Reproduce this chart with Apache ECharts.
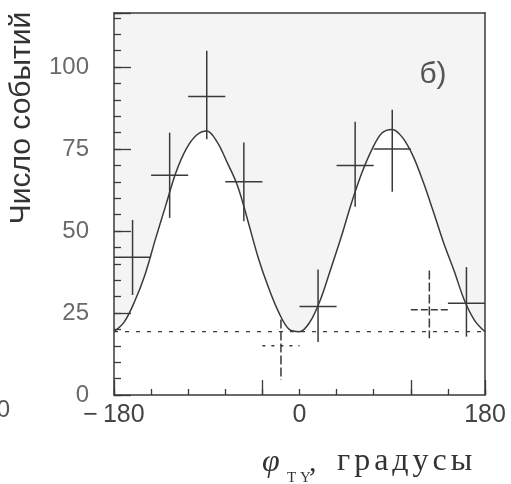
<!DOCTYPE html>
<html>
<head>
<meta charset="utf-8">
<script src="https://cdn.jsdelivr.net/npm/echarts@6/dist/echarts.min.js"></script>
<style>
  html, body { margin: 0; padding: 0; background: #ffffff; }
  #chart { width: 511px; height: 484px; }
</style>
</head>
<body>
<div id="chart"></div>
<script>
// Histogram of events versus azimuthal angle (10 bins of 36 degrees)
const binCenters = [-162, -126, -90, -54, -18, 18, 54, 90, 126, 162];
const binWidth = 36;
const counts  = [42, 67, 91, 65, 15, 27, 70, 75, 26, 28];
const errLow  = [30.5, 54, 78, 53, 4.6, 16.2, 57.4, 62, 17.3, 17.8];
const errHigh = [53.4, 80, 105, 77, 23, 38.3, 83.3, 87, 38, 39];

// Fitted curve sampled along the angle axis
const fitAngles = [-180, -170, -160, -150, -140, -130, -120, -110, -100, -90,
                   -80, -70, -60, -50, -40, -30, -20, -10, 0,
                   10, 20, 30, 40, 50, 60, 70, 80, 90,
                   100, 110, 120, 130, 140, 150, 160, 170, 180];
const fitValues = [19.3, 22.3, 28.5, 36.6, 47.3, 57.6, 67.8, 75.0, 79.2, 80.5,
                   77.2, 70.8, 63.7, 53.0, 41.8, 32.7, 25.1, 20.0, 19.3,
                   22.2, 28.8, 38.1, 47.7, 58.1, 67.3, 74.7, 79.9, 81.0,
                   78.5, 73.0, 65.0, 55.8, 46.3, 37.9, 28.9, 22.7, 19.3];

// Flat background level
const backgroundLevel = 19.3;

// Tick labels
const xTickLabels = [-180, 0, 180];
const yTickLabels = [0, 25, 50, 75, 100];

// Bins whose crosses are printed with a broken stroke, and their dash patterns
const brokenBinDash = { 4: [3, 6], 8: [7, 3] };

const ink = '#3a3a3a';
const X_MIN = -180, X_MAX = 180, Y_MIN = 0, Y_MAX = 116.5;

const chart = echarts.init(document.getElementById('chart'), null, { renderer: 'canvas' });

const hiddenLabel = { show: false };
const noSplit = { show: false };

// spaced-out letters for the axis unit word
const unitWord = 'градусы';
const unitRich = unitWord.split('').map(ch => '{l|' + ch + '}').join('');

const option = {
  animation: false,
  backgroundColor: '#ffffff',
  grid: {
    left: 114, right: 26, top: 13, bottom: 89,
    show: true, backgroundColor: '#f4f4f4', borderWidth: 0,
    containLabel: false, outerBoundsMode: 'none'
  },
  xAxis: [
    {
      type: 'value', position: 'bottom', min: X_MIN, max: X_MAX, interval: 36, z: 5,
      axisLine: { show: true, onZero: false, lineStyle: { color: ink, width: 1.5 } },
      axisTick: { show: true, inside: true, length: 6, lineStyle: { color: ink, width: 1.3 } },
      axisLabel: {
        margin: 8, fontSize: 25, fontFamily: 'Liberation Sans', color: '#444',
        formatter: v => xTickLabels.includes(v) ? (v < 0 ? '\u2212\u2009' + Math.abs(v) : String(v)) : ''
      },
      splitLine: noSplit
    },
    {
      type: 'value', position: 'bottom', min: X_MIN, max: X_MAX, interval: 144, z: 5,
      axisLine: { show: false, onZero: false },
      axisTick: { show: true, inside: true, length: 15, lineStyle: { color: ink, width: 1.3 } },
      axisLabel: hiddenLabel, splitLine: noSplit
    },
    {
      type: 'value', position: 'top', min: X_MIN, max: X_MAX, z: 5,
      axisLine: { show: true, onZero: false, lineStyle: { color: ink, width: 1.5 } },
      axisTick: { show: false }, axisLabel: hiddenLabel, splitLine: noSplit
    }
  ],
  yAxis: [
    {
      type: 'value', position: 'left', min: Y_MIN, max: Y_MAX, interval: 25, z: 5,
      axisLine: { show: true, onZero: false, lineStyle: { color: ink, width: 1.5 } },
      axisTick: { show: true, inside: true, length: 17, lineStyle: { color: ink, width: 1.3 } },
      axisLabel: {
        margin: 25, fontSize: 24, fontFamily: 'Liberation Sans', color: '#6a6a6a',
        formatter: v => yTickLabels.includes(v) ? String(v) : ''
      },
      splitLine: noSplit
    },
    {
      type: 'value', position: 'left', min: Y_MIN, max: Y_MAX, interval: 5, z: 5,
      axisLine: { show: false, onZero: false },
      axisTick: { show: true, inside: true, length: 7, lineStyle: { color: ink, width: 1.3 } },
      axisLabel: hiddenLabel, splitLine: noSplit
    },
    {
      type: 'value', position: 'right', min: Y_MIN, max: Y_MAX, z: 5,
      axisLine: { show: true, onZero: false, lineStyle: { color: ink, width: 1.5 } },
      axisTick: { show: false }, axisLabel: hiddenLabel, splitLine: noSplit
    }
  ],
  series: [
    {
      // fitted curve; the region beneath it is left white
      type: 'line', xAxisIndex: 0, yAxisIndex: 0, z: 2, silent: true,
      data: fitAngles.map((a, i) => [a, fitValues[i]]),
      smooth: 0.35, symbol: 'none',
      lineStyle: { color: ink, width: 1.5 },
      areaStyle: { color: '#ffffff', opacity: 1, origin: 'start' }
    },
    {
      // flat background level
      type: 'line', xAxisIndex: 0, yAxisIndex: 0, z: 3, silent: true,
      data: [[X_MIN, backgroundLevel], [X_MAX, backgroundLevel]],
      symbol: 'none',
      lineStyle: { color: ink, width: 1.3, type: [4, 7] }
    },
    {
      // measured counts with bin width and error bars
      type: 'custom', xAxisIndex: 0, yAxisIndex: 0, z: 4, silent: true,
      data: binCenters.map((c, i) => [c, counts[i], errLow[i], errHigh[i]]),
      encode: { x: 0, y: 1 },
      renderItem: function (params, api) {
        const c = api.value(0), v = api.value(1), lo = api.value(2), hi = api.value(3);
        const left = api.coord([c - binWidth / 2, v]);
        const right = api.coord([c + binWidth / 2, v]);
        const top = api.coord([c, hi]);
        const bottom = api.coord([c, lo]);
        const dash = brokenBinDash[params.dataIndex] || null;
        const solid = { stroke: ink, lineWidth: 1.5, fill: null };
        const hStyle = Object.assign({}, solid, { lineDash: dash });
        const vStyle = Object.assign({}, solid, { lineDash: dash ? [9, 3] : null });
        return {
          type: 'group',
          children: [
            { type: 'line', shape: { x1: left[0], y1: left[1], x2: right[0], y2: right[1] }, style: hStyle },
            { type: 'line', shape: { x1: top[0], y1: top[1], x2: bottom[0], y2: bottom[1] }, style: vStyle }
          ]
        };
      }
    }
  ],
  graphic: [
    {
      type: 'text', x: 22, y: 118, rotation: Math.PI / 2,
      style: {
        text: 'Число событий', fontSize: 30, fontFamily: 'Liberation Sans',
        fill: '#333', align: 'center', verticalAlign: 'middle'
      }
    },
    {
      type: 'text', x: 262, y: 463,
      style: {
        text: 'φ', fontSize: 32, fontFamily: 'Liberation Serif', fontStyle: 'italic',
        fill: '#333', align: 'left', verticalAlign: 'middle'
      }
    },
    {
      type: 'text', x: 287, y: 471,
      style: {
        text: 'T Y', fontSize: 15, fontFamily: 'Liberation Serif',
        fill: '#333', align: 'left', verticalAlign: 'top'
      }
    },
    {
      type: 'text', x: 309, y: 463,
      style: {
        text: ',', fontSize: 30, fontFamily: 'Liberation Serif',
        fill: '#333', align: 'left', verticalAlign: 'middle'
      }
    },
    {
      type: 'text', x: 335, y: 462,
      style: {
        text: unitRich, fill: '#333', align: 'left', verticalAlign: 'middle',
        rich: {
          l: { fontFamily: 'Liberation Serif', fontSize: 32, fill: '#333', padding: [0, 2, 0, 2] }
        }
      }
    },
    {
      type: 'text', x: 433, y: 75,
      style: {
        text: 'б)', fontSize: 30, fontFamily: 'Liberation Sans',
        fill: '#555', align: 'center', verticalAlign: 'middle'
      }
    },
    {
      type: 'text', x: 10, y: 410,
      style: {
        text: '180', fontSize: 24, fontFamily: 'Liberation Sans',
        fill: '#555', align: 'right', verticalAlign: 'middle'
      }
    }
  ]
};

chart.setOption(option);
</script>
</body>
</html>
